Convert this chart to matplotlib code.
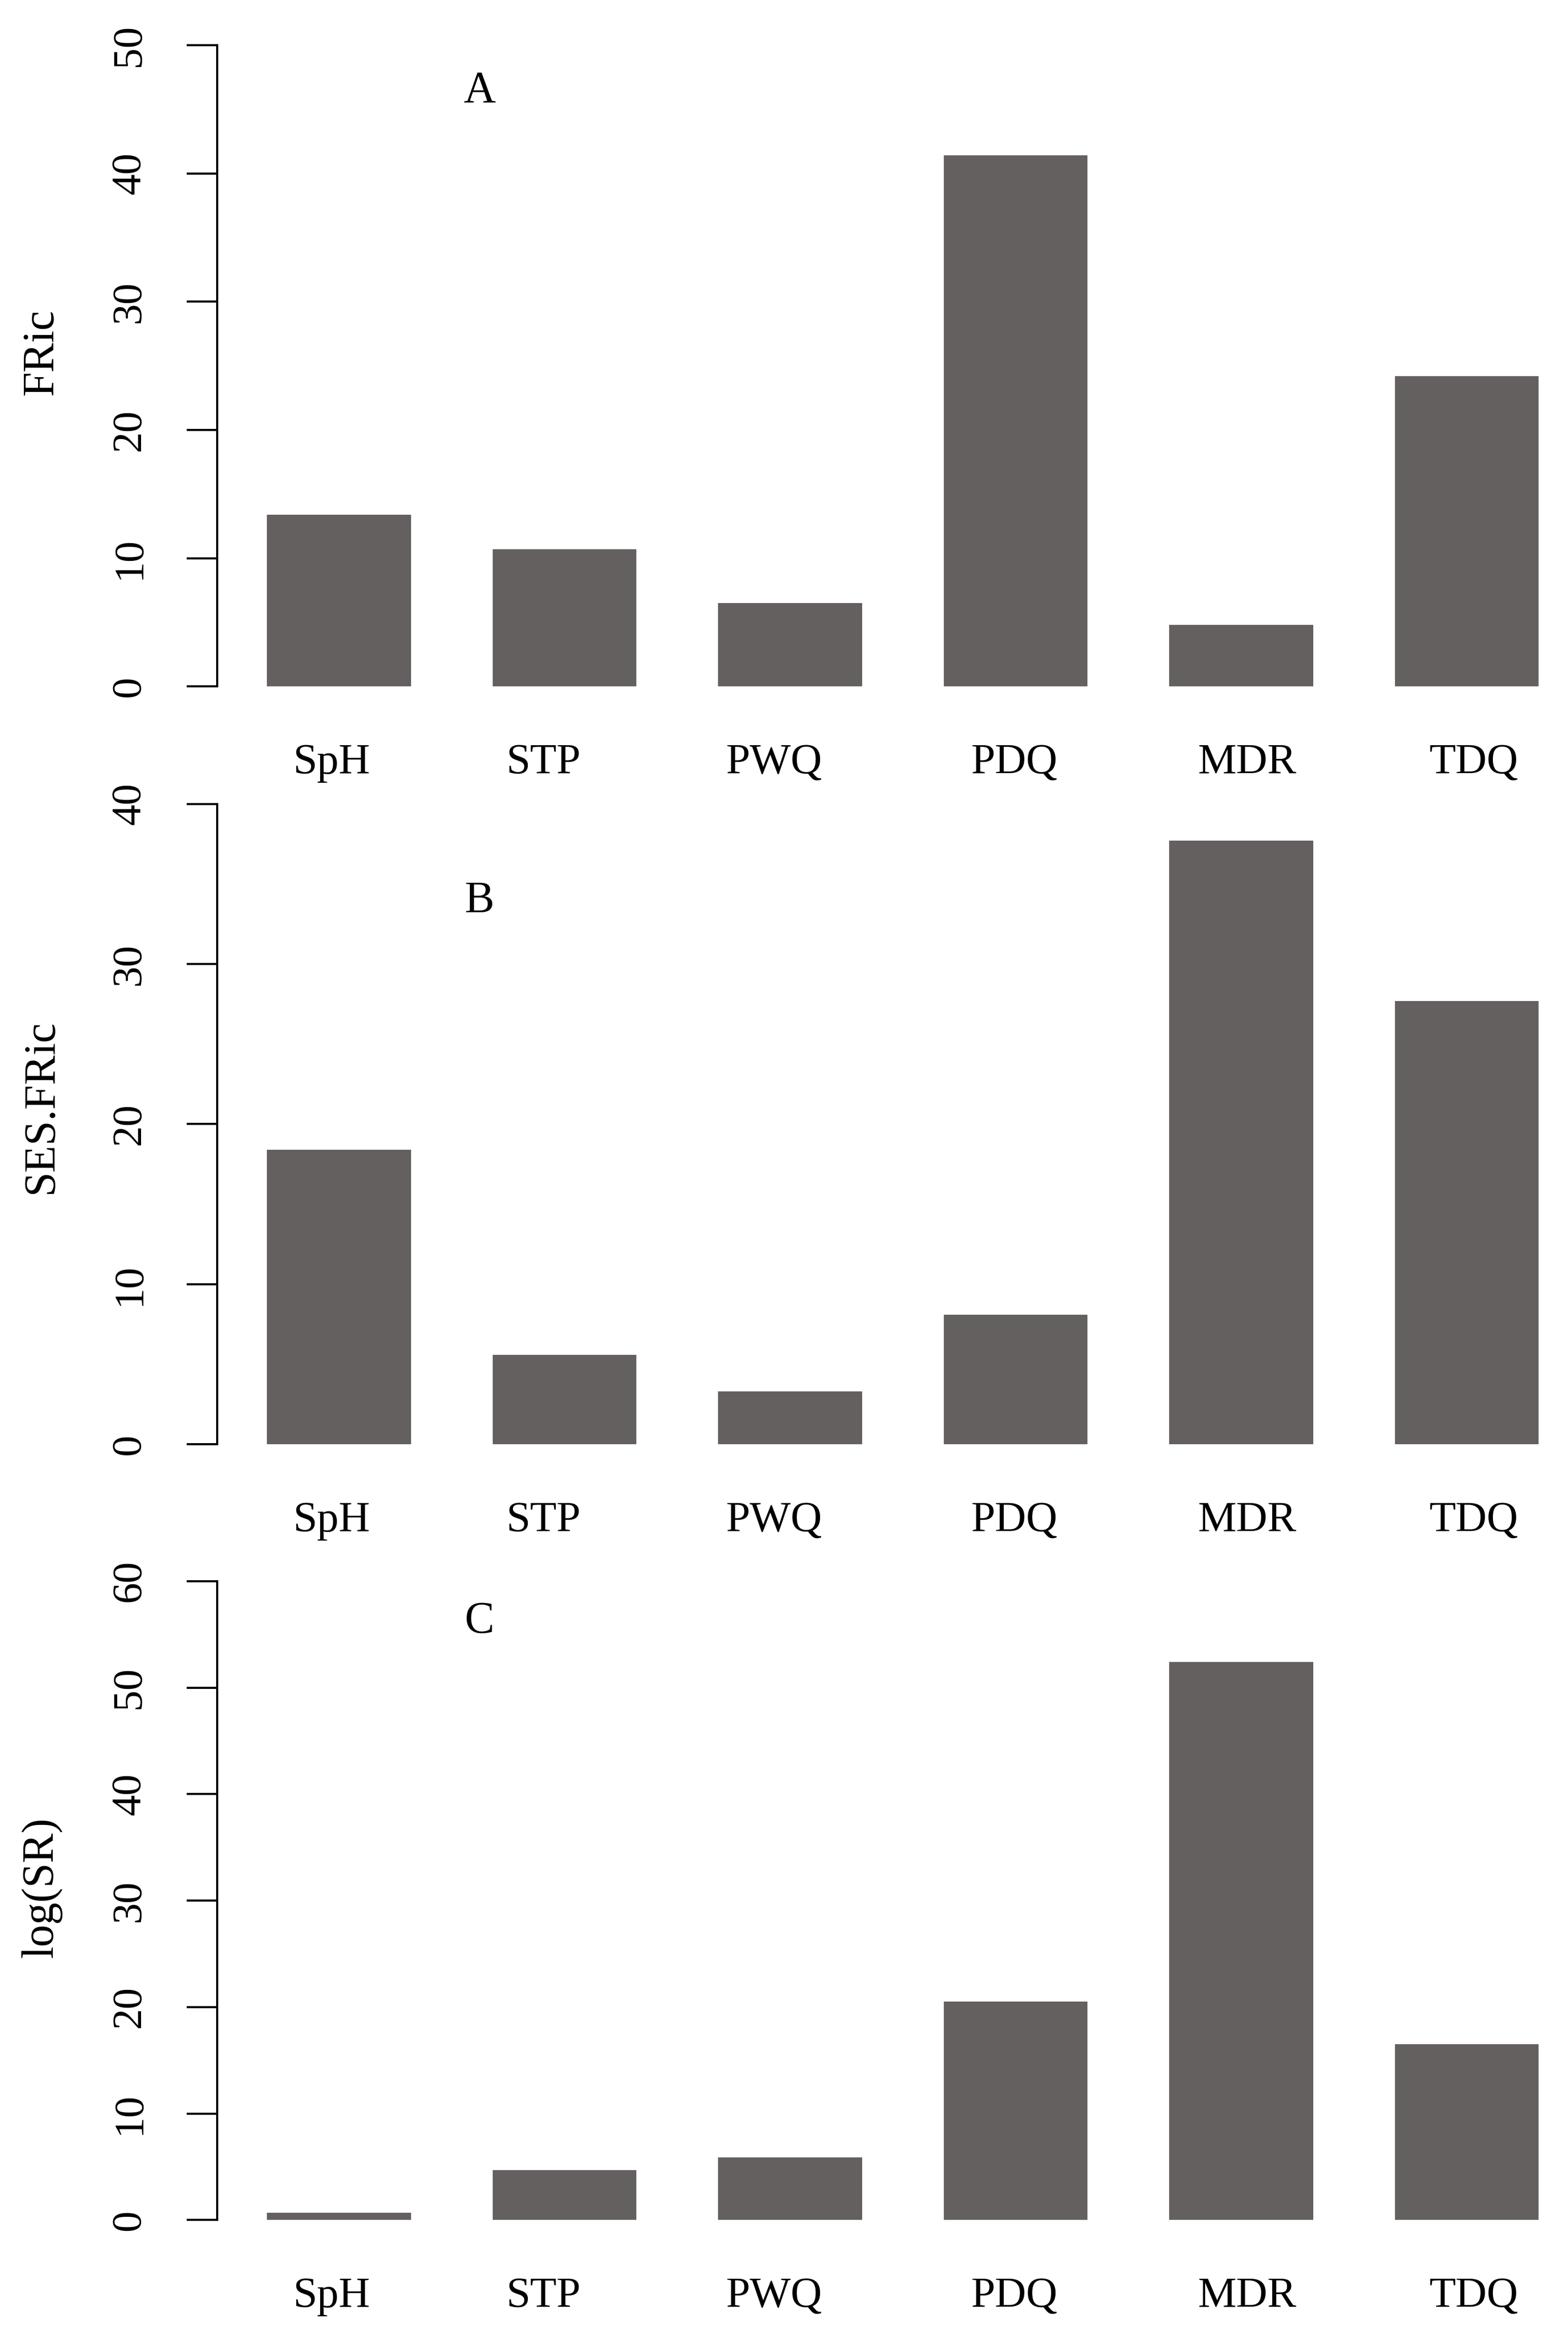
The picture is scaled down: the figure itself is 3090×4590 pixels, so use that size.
import matplotlib
matplotlib.use("Agg")
import matplotlib.pyplot as plt
import numpy as np

categories = ["SpH", "STP", "PWQ", "PDQ", "MDR", "TDQ"]
fric = [13.4, 10.7, 6.5, 41.4, 4.8, 24.2]
ses_fric = [18.4, 5.6, 3.3, 8.1, 37.7, 27.7]
log_sr = [0.7, 4.7, 5.9, 20.5, 52.4, 16.5]

# layout: small horizontal offsets of the category labels relative to bar centres
label_shift = [-0.034, -0.094, -0.072, -0.005, 0.027, 0.031]

panels = [
    dict(values=fric, ylabel="FRic", letter="A", ymax=50, ticks=[0, 10, 20, 30, 40, 50],
         bottom=0.7054, top=0.9806, letter_y=46.4, ylab_y=0.8489),
    dict(values=ses_fric, ylabel="SES.FRic", letter="B", ymax=40, ticks=[0, 10, 20, 30, 40],
         bottom=0.3801, top=0.6550, letter_y=33.9, ylab_y=0.5249),
    dict(values=log_sr, ylabel="log(SR)", letter="C", ymax=60, ticks=[0, 10, 20, 30, 40, 50, 60],
         bottom=0.0472, top=0.3214, letter_y=56.2, ylab_y=0.1900),
]

plt.rcParams['font.family'] = ['Liberation Serif', 'DejaVu Serif']
FS_TICK = 20
FS_CAT = 20.5
FS_LAB = 21
bar_color = "#64605F"

fig = plt.figure(figsize=(10.3, 15.3), dpi=300)
x = np.arange(len(categories))
left = 428 / 3090
for p in panels:
    ax = fig.add_axes([left, p["bottom"], 1.0 - left, p["top"] - p["bottom"]])
    ax.bar(x, p["values"], width=0.637, color=bar_color, edgecolor='none')
    ax.set_xlim(-0.54, 5.449)
    ax.set_ylim(0, p["ymax"])
    for s in ["top", "right", "bottom"]:
        ax.spines[s].set_visible(False)
    ax.spines["left"].set_linewidth(1.0)
    ax.spines["left"].set_bounds(0, p["ymax"])
    ax.set_yticks(p["ticks"])
    ax.set_yticklabels([str(t) for t in p["ticks"]], rotation=90, va='center', fontsize=FS_TICK)
    ax.tick_params(axis='y', length=14.4, width=1.0, pad=18, direction='out')
    ax.set_xticks(x + np.array(label_shift))
    ax.set_xticklabels(categories, fontsize=FS_CAT)
    ax.tick_params(axis='x', length=0, pad=27)
    ax.patch.set_visible(False)
    ax.text(0.623, p["letter_y"], p["letter"], ha='center', va='center', fontsize=FS_LAB)
    fig.text(0.0265, p["ylab_y"], p["ylabel"], rotation=90, ha='center', va='center', fontsize=FS_LAB)

fig.savefig("out.png", dpi=300)
